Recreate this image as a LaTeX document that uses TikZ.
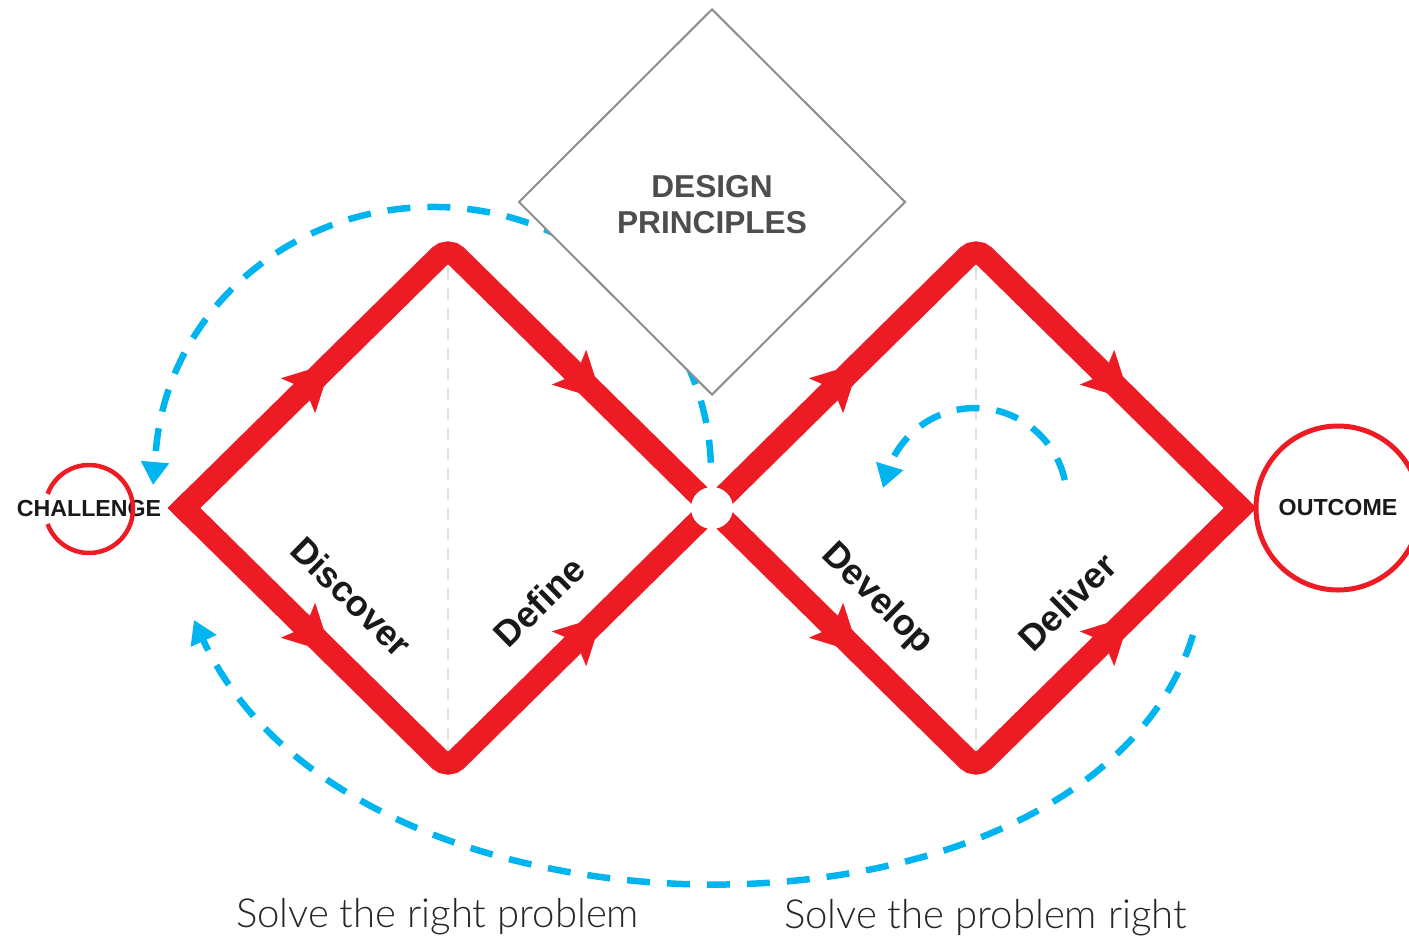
\documentclass[tikz,border=0pt]{standalone}
\usepackage{fontspec}
\setmainfont{Liberation Sans}
\newfontfamily\thinfont{Lato Light}
\usetikzlibrary{calc,positioning,shapes.geometric,arrows.meta,decorations.markings}

\definecolor{dcred}{HTML}{ED1C24}
\definecolor{dcblue}{HTML}{00B5EF}
\definecolor{dcgrey}{HTML}{8E8E8E}
\definecolor{dctext}{HTML}{4D4D4F}

\newcommand{\flowhead}{\fill[dcred, sharp corners] (0.27,0) -- (-0.2,0.245) -- (-0.1,0) -- (-0.2,-0.245) -- cycle;}

\tikzset{
  flow/.style={draw=dcred, line width=0.23cm, line cap=rect, rounded corners=0.12cm,
    postaction={decorate}, decoration={markings,
      mark=at position 0.245 with {\flowhead},
      mark=at position 0.755 with {\flowhead}}},
  feedback/.style={draw=dcblue, line width=0.065cm, dash pattern=on 0.23cm off 0.17cm,
    -{Triangle[length=0.23cm, width=0.27cm]}},
  phase/.style={pos=0.49, sloped, anchor=south, inner sep=0.3cm, text depth=0pt,
    font=\fontsize{10.3}{12}\selectfont\bfseries, text=black!90},
  ends/.style={font=\fontsize{6.6}{8}\selectfont\bfseries, text=black!90},
  midline/.style={draw=black!12, line width=0.015cm, dash pattern=on 0.12cm off 0.08cm},
  motto/.style={anchor=base, font=\thinfont\fontsize{11.4}{13}\selectfont, text=black!85},
}

\begin{document}
\begin{tikzpicture}
  \useasboundingbox (0,0) rectangle (14.09,9.37);

  \coordinate (L1) at (1.84,4.29);
  \coordinate (T1) at (4.48,6.89);
  \coordinate (B1) at (4.48,1.69);
  \coordinate (C)  at (7.12,4.29);
  \coordinate (T2) at (9.76,6.89);
  \coordinate (B2) at (9.76,1.69);
  \coordinate (R)  at (12.40,4.29);

  \draw[midline] (T1) -- (B1);
  \draw[midline] (T2) -- (B2);

  %% loop back over the first diamond
  \coordinate (top start) at (7.108,4.743);
  \coordinate (top end) at (1.53,4.52);
  \draw[feedback] (top start) arc[start angle=2, end angle=177, x radius=2.78, y radius=2.65] -- (top end);

  \node[diamond, draw=dcgrey, fill=white, line width=0.02cm, minimum width=3.87cm, minimum height=3.86cm,
        inner sep=0pt] (design) at (7.12,7.35) {};
  \node[align=center, font=\fontsize{9}{10.2}\selectfont\bfseries, text=dctext]
        (design text) at ([yshift=-0.03cm]design.center) {DESIGN\\PRINCIPLES};

  %%

  \node[ends] (challenge) at (0.89,4.28) {CHALLENGE};
  \draw[dcred, line width=0.045cm] (challenge.center) ++(160:0.44) arc[start angle=160, end angle=-160, radius=0.44];

  \node[ends, circle, draw=dcred, line width=0.05cm, minimum size=1.64cm, inner sep=0pt] (outcome) at (13.38,4.29) {OUTCOME};

  %%

  \draw[flow] (L1) -- (T1) -- (C);
  \draw[flow] (L1) -- node[phase] {Discover} (B1) -- node[phase] {Define} (C);
  \draw[flow] (C) -- (T2) -- (R);
  \draw[flow] (C) -- node[phase] {Develop} (B2) -- node[phase] {Deliver} (R);

  \node[circle, fill=white, minimum size=0.42cm, inner sep=0pt] (hub) at (C) {};

  %% small loop inside the second diamond
  \coordinate (small start) at (10.648,4.569);
  \coordinate (small end) at (8.83,4.49);
  \draw[feedback] (small start) arc[start angle=12.5, end angle=157, radius=0.92] -- (small end);

  %% long loop under both diamonds
  \coordinate (back start) at (11.93,3.02);
  \coordinate (back end) at (1.94,3.17);
  \draw[feedback] (back start) .. controls (10.90,-0.30) and (3.54,-0.30) .. (back end);

  \node[motto] (right problem) at (4.375,0.10) {Solve the right problem};
  \node[motto] (problem right) at (9.855,0.09) {Solve the problem right};

\end{tikzpicture}
\end{document}
